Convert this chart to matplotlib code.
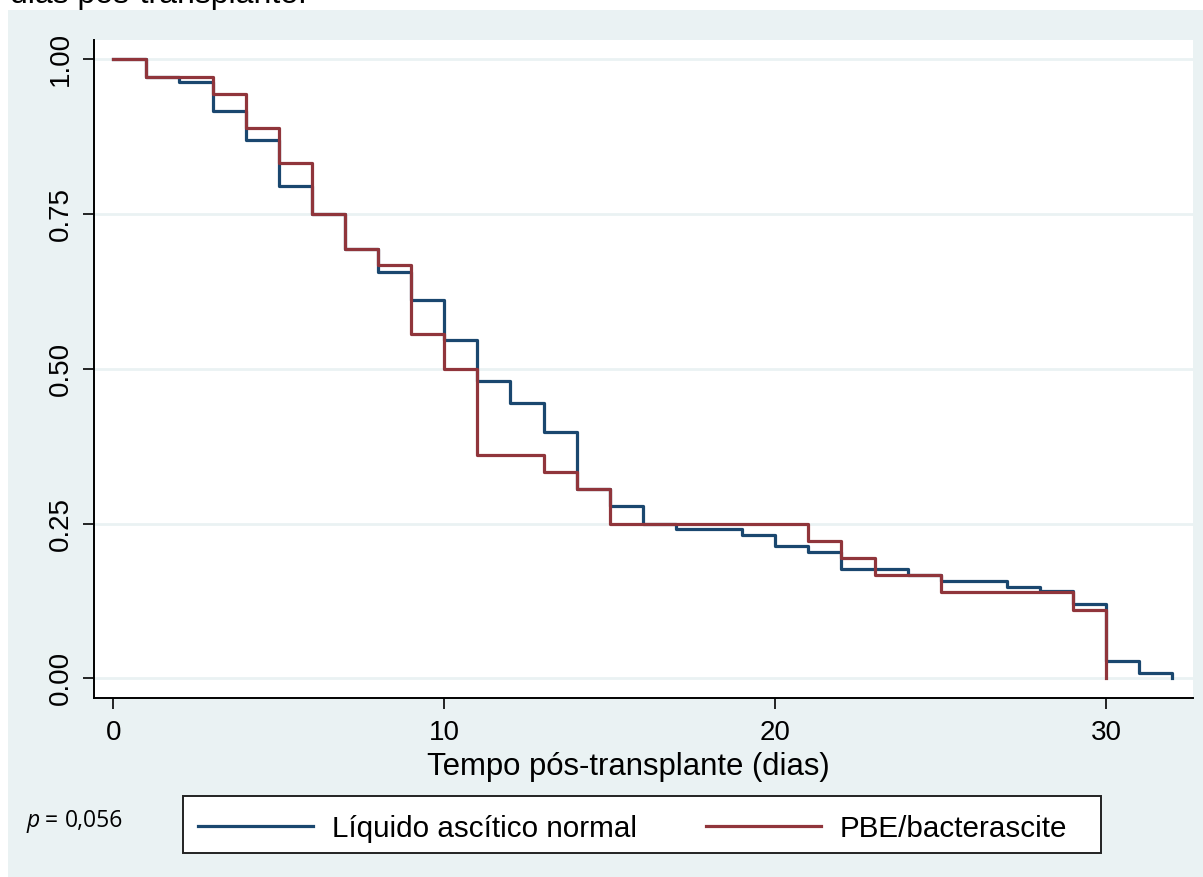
import numpy as np
import matplotlib.pyplot as plt
from matplotlib.patches import Rectangle
from matplotlib.lines import Line2D

# Kaplan-Meier steps (time in days, survival)
t_normal = [0, 1, 2, 3, 4, 5, 6, 7, 8, 9, 10, 11, 12, 13, 14, 15, 16, 17, 19,
            20, 21, 22, 24, 25, 27, 28, 29, 30, 31, 32]
s_normal = [1.0, 0.972, 0.963, 0.917, 0.870, 0.796, 0.750, 0.694, 0.657, 0.611,
            0.546, 0.481, 0.444, 0.398, 0.306, 0.278, 0.250, 0.241, 0.231,
            0.213, 0.204, 0.176, 0.167, 0.157, 0.148, 0.141, 0.120, 0.028,
            0.009, 0.0]

t_pbe = [0, 1, 3, 4, 5, 6, 7, 8, 9, 10, 11, 13, 14, 15, 21, 22, 23, 25, 29, 30]
s_pbe = [1.0, 0.972, 0.944, 0.889, 0.833, 0.750, 0.694, 0.667, 0.556, 0.500,
         0.361, 0.333, 0.306, 0.250, 0.222, 0.194, 0.167, 0.139, 0.111, 0.0]

labels = ['Líquido ascítico normal', 'PBE/bacterascite']
x_ticks = [0, 10, 20, 30]
y_ticks = [0.0, 0.25, 0.5, 0.75, 1.0]
y_ticklabels = ['0.00', '0.25', '0.50', '0.75', '1.00']
p_text = '0,056'

BLUE = '#1A476F'
RED = '#90353B'
BG = '#EAF2F3'

plt.rcParams['font.family'] = ['Liberation Sans', 'DejaVu Sans']

W, H = 1203, 877
fig = plt.figure(figsize=(W / 100, H / 100), dpi=100)

def fx(x):
    return x / W

def fy(y):
    return 1 - y / H

# graph region background (the top strip above it is page white)
fig.patches.append(Rectangle((fx(8), 0), 1 - fx(8), fy(9.5), transform=fig.transFigure,
                             facecolor=BG, edgecolor='none', zorder=-5))

# cut-off caption text from the page above the chart
fig.text(fx(10), fy(3.5), 'dias pós-transplante.', fontsize=23, va='baseline',
         ha='left', color='black', zorder=-4)

ax = fig.add_axes([fx(94), fy(698), (1193 - 94) / W, (698 - 40) / H])
ax.set_zorder(1)
ax.set_facecolor('white')

ax.step(t_normal, s_normal, where='post', color=BLUE, lw=2.3, zorder=3)
ax.step(t_pbe, s_pbe, where='post', color=RED, lw=2.3, zorder=4)

ax.set_xlim(-0.583, 32.62)
ax.set_ylim(-0.0318, 1.0312)

ax.set_xticks(x_ticks)
ax.set_yticks(y_ticks)
ax.set_yticklabels(y_ticklabels)
plt.setp(ax.get_yticklabels(), rotation=90, va='center')

ax.tick_params(axis='both', length=8, width=1.2, colors='black', labelsize=20)
ax.tick_params(axis='x', pad=7.5)
ax.tick_params(axis='y', pad=6.5)

ax.yaxis.grid(True, color=BG, lw=2)
ax.set_axisbelow(True)

for side in ['top', 'right']:
    ax.spines[side].set_visible(False)
for side in ['left', 'bottom']:
    ax.spines[side].set_linewidth(1.4)
    ax.spines[side].set_color('black')

ax.set_xlabel('Tempo pós-transplante (dias)', fontsize=22.4)
ax.xaxis.label.set_va('baseline')
ax.xaxis.set_label_coords((628 - 94) / (1193 - 94), (698 - 775) / (698 - 40))

# legend box below the axis
fig.patches.append(Rectangle((fx(183.3), fy(852.7)), (1101 - 183.3) / W, (852.7 - 795.7) / H,
                             transform=fig.transFigure, facecolor='white',
                             edgecolor='#222222', lw=1.4, zorder=2))
for (x0, x1, xt), col, lab in zip([(197.7, 312.7, 331.7), (706, 821, 840)],
                                  [BLUE, RED], labels):
    fig.lines.append(Line2D([fx(x0), fx(x1)], [fy(826), fy(826)], transform=fig.transFigure,
                            color=col, lw=2.3, zorder=3))
    fig.text(fx(xt), fy(837), lab, fontsize=21.3, va='baseline', ha='left', zorder=3)

# p-value note
fig.text(fx(26), fy(827.3), 'p', fontsize=16.5, style='italic', family='Open Sans',
         va='baseline', ha='left')
fig.text(fx(45), fy(827.3), '=', fontsize=16.5, family='Open Sans', va='baseline', ha='left')
fig.text(fx(65), fy(827.3), p_text, fontsize=16.5, family='Open Sans', va='baseline', ha='left')

fig.savefig('out.png', dpi=100)
